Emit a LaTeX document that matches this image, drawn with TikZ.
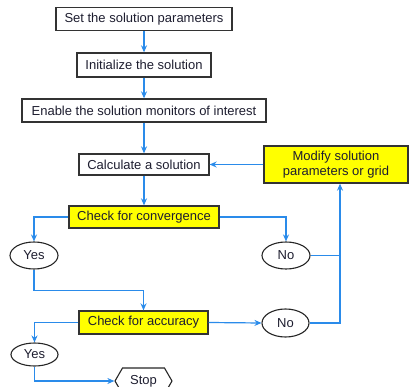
\documentclass[tikz,border=0pt]{standalone}
\usepackage{fontspec}
\setmainfont{Liberation Sans}
\usetikzlibrary{arrows.meta,shapes.geometric,shapes.symbols,calc}
\definecolor{flowblue}{HTML}{2A8BEA}
\definecolor{boxyellow}{HTML}{FFFF00}
\definecolor{inkc}{HTML}{1E1E30}
\begin{document}
\begin{tikzpicture}[x=1pt,y=-1pt,
  every node/.style={font=\fontsize{13}{15}\selectfont, text=inkc, inner sep=0pt},
  stepbox/.style={draw=black!80, line width=1.3pt, fill=white, rectangle},
  yellowbox/.style={stepbox, fill=boxyellow},
  answer/.style={draw=black!85, line width=1.1pt, ellipse, fill=white},
  arr/.style={draw=flowblue, line width=1.2pt, -{Stealth[length=7pt,width=6pt]}},
  ln/.style={draw=flowblue, line width=1.2pt}
]
\useasboundingbox (0,0) rectangle (409,387);
\node[stepbox, minimum width=176pt, minimum height=23pt] (p1) at (144,19) {Set the solution parameters};
\node[stepbox, minimum width=134pt, minimum height=24pt] (p2) at (144,65) {Initialize the solution};
\node[stepbox, minimum width=244pt, minimum height=23pt] (p3) at (144,110.5) {Enable the solution monitors of interest};
\node[stepbox, minimum width=130pt, minimum height=21pt] (p4) at (144,164.5) {Calculate a solution};
\node[yellowbox, minimum width=144pt, minimum height=37pt, align=center] (mod) at (336,164.5) {Modify solution\\parameters or grid};
\node[yellowbox, minimum width=150pt, minimum height=22pt] (conv) at (144,217) {Check for convergence};
\node[answer, minimum width=48pt, minimum height=27pt] (yes1) at (34,255.5) {Yes};
\node[answer, minimum width=48pt, minimum height=27pt] (no1) at (286,255.5) {No};
\node[yellowbox, minimum width=129pt, minimum height=23pt] (acc) at (143.5,322.5) {Check for accuracy};
\node[answer, minimum width=47pt, minimum height=28pt] (no2) at (285.5,323) {No};
\node[answer, minimum width=47pt, minimum height=23pt] (yes2) at (34.5,354.5) {Yes};
\node[draw=black!85, line width=1.1pt, fill=white, signal, signal to=west and east, signal pointer angle=120, minimum width=57pt, minimum height=26pt] (stop) at (143.5,381) {Stop};
\coordinate (j1) at (340,255.5);

\draw[arr] (p1) -- (p2);
\draw[arr] (p2) -- (p3);
\draw[arr] (p3) -- (p4);
\draw[arr] (p4) -- (conv);
\draw[arr] (conv.west) -| (yes1.north);
\draw[arr] (conv.east) -| (no1.north);
\draw[arr] (no1.east) -| ([xshift=4pt]mod.south);
\draw[ln] (no2.east) -| (j1);
\draw[arr] (mod.west) -- (p4.east);
\draw[arr] (yes1.south) -- ++(0,21) -| (acc.north);
\draw[arr] (acc.west) -| (yes2.north);
\draw[arr] (acc.east) -- (no2.west);
\draw[arr] (yes2.south) |- (stop.west);
\end{tikzpicture}
\end{document}
